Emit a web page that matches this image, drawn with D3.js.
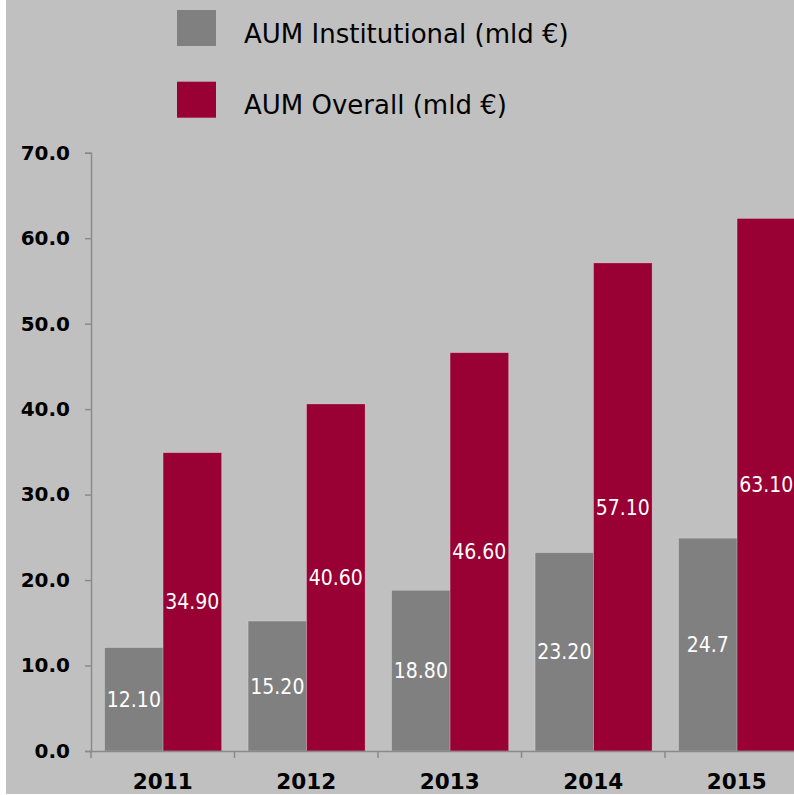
<!DOCTYPE html>
<html><head><meta charset="utf-8">
<script src="https://cdn.jsdelivr.net/npm/d3@7"></script>
<style>
html,body{margin:0;padding:0;background:#fff;overflow:hidden;}
svg{display:block;}
text{font-family:"DejaVu Sans",sans-serif;}
</style></head>
<body><svg id="c" width="794" height="795"></svg>
<script>
const years = ["2011","2012","2013","2014","2015"];
const seriesNames = ["AUM Institutional (mld €)","AUM Overall (mld €)"];
const institutional = [12.1, 15.2, 18.8, 23.2, 24.9];
const overall = [34.9, 40.6, 46.6, 57.1, 62.3];
const institutionalLabels = ["12.10","15.20","18.80","23.20","24.7"];
const overallLabels = ["34.90","40.60","46.60","57.10","63.10"];
const yTicks = [0,10,20,30,40,50,60,70];
const colors = ["#808080","#990033"];

const svg = d3.select("#c");
svg.append("rect").attr("x",6).attr("y",0).attr("width",788).attr("height",794).attr("fill","#c0c0c0");

const y = d3.scaleLinear().domain([0,70]).range([751,152.7]);
const x = d3.scaleBand().domain(years).range([91, 91+5*143.5]).padding(0);
const bw = x.bandwidth();
const x1 = d3.scaleBand().domain([0,1]).range([0.095*bw, 0.91*bw]).padding(0);

const data = years.map((yr,i)=>({yr, vals:[institutional[i], overall[i]], labels:[institutionalLabels[i], overallLabels[i]]}));

const g = svg.append("g");
const groups = g.selectAll("g.grp").data(data).join("g").attr("class","grp")
  .attr("transform", d=>`translate(${x(d.yr)},0)`);
groups.selectAll("rect").data(d=>d.vals.map((v,k)=>({v,k}))).join("rect")
  .attr("x", d=>x1(d.k)).attr("width", x1.bandwidth())
  .attr("y", d=>y(d.v)).attr("height", d=>y(0)-y(d.v))
  .attr("fill", d=>colors[d.k])
  .attr("stroke","rgba(255,255,255,0.25)").attr("stroke-width",0.8);
groups.selectAll("text.lbl").data(d=>d.vals.map((v,k)=>({v,k,t:d.labels[k]}))).join("text").attr("class","lbl")
  .attr("x", d=>x1(d.k)+x1.bandwidth()/2)
  .attr("y", d=>(y(d.v)+y(0))/2)
  .attr("dy","0.36em")
  .attr("text-anchor","middle")
  .attr("fill","#fff").attr("font-size",21)
  .style("font-family","'DejaVu Sans Condensed','DejaVu Sans',sans-serif")
  .style("font-stretch","condensed")
  .text(d=>d.t);

// y axis
const yAxis = d3.axisLeft(y).tickValues(yTicks).tickFormat(d3.format(".1f")).tickSize(6).tickPadding(15);
const ya = svg.append("g").attr("transform","translate(91,0)").call(yAxis);
ya.select(".domain").attr("stroke","#8a8a8a").attr("stroke-width",1.5);
ya.selectAll(".tick line").attr("stroke","#8a8a8a").attr("stroke-width",1.5);
ya.selectAll(".tick text").attr("fill","#000").attr("font-size",20).attr("font-weight","bold")
  .attr("font-family","'DejaVu Sans',sans-serif");

// x axis
const xAxis = d3.axisBottom(x).tickSize(0).tickPadding(23);
const xa = svg.append("g").attr("transform","translate(0,751)").call(xAxis);
xa.select(".domain").attr("stroke","#8a8a8a").attr("stroke-width",1.5);
xa.selectAll(".tick text").attr("fill","#000").attr("font-size",21.5).attr("font-weight","bold")
  .attr("font-family","'DejaVu Sans',sans-serif");
xa.selectAll("line.sep").data(years).join("line").attr("class","sep")
  .attr("x1", d=>x(d)).attr("x2", d=>x(d)).attr("y1",0).attr("y2",7)
  .attr("stroke","#8a8a8a").attr("stroke-width",1.5);

// legend
const leg = svg.append("g");
const legRows = [10, 81.7];
seriesNames.forEach((n,i)=>{
  const ly = legRows[i];
  leg.append("rect").attr("x",177).attr("y",ly).attr("width",39).attr("height",36).attr("fill",colors[i]);
  leg.append("text").attr("x",244).attr("y",ly+32.5).attr("font-size",26).attr("fill","#000").text(n);
});
</script></body></html>
